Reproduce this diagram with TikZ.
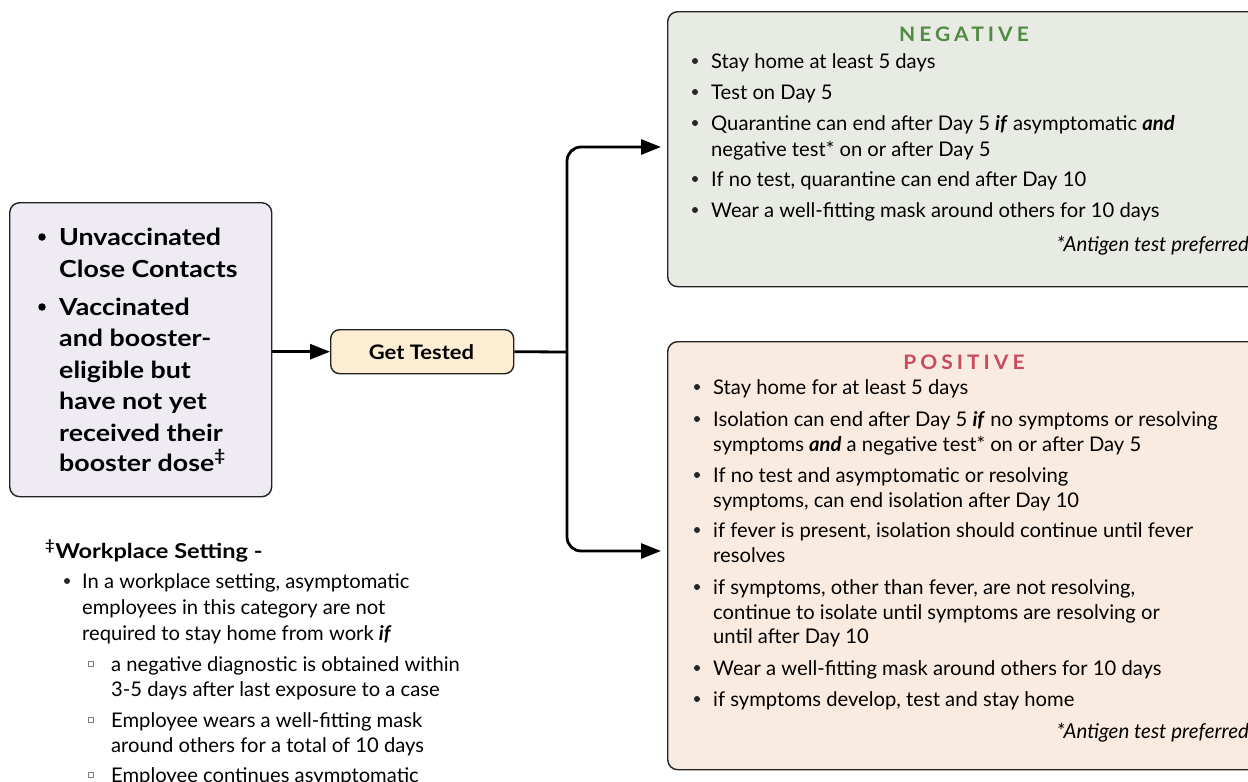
\documentclass[tikz,border=0pt]{standalone}
\usepackage{fontspec}
\setmainfont{Lato}
\usetikzlibrary{arrows.meta}
\definecolor{lavbox}{HTML}{EFEBF3}
\definecolor{peach}{HTML}{FDEDD2}
\definecolor{negfill}{HTML}{E8EBE3}
\definecolor{posfill}{HTML}{FAEBE0}
\definecolor{neggreen}{HTML}{4F8B41}
\definecolor{posred}{HTML}{C94A5C}
\definecolor{edge}{HTML}{222222}
\newcommand\bi[1]{\textbf{\textit{#1}}}
\begin{document}
\begin{tikzpicture}[x=1pt,y=1pt,
  box/.style={draw=edge, line width=1.4pt, rounded corners=10pt, inner sep=0pt, anchor=north west},
  txt/.style={inner sep=0pt, anchor=base west, font=\fontsize{20.2}{24}\selectfont},
  dot/.style={circle, fill=black!85, inner sep=0pt, minimum size=6pt},
  bigdot/.style={circle, fill=black, inner sep=0pt, minimum size=7.5pt},
  bigtxt/.style={inner sep=0pt, anchor=base west, font=\fontsize{23.5}{28}\selectfont\bfseries\addfontfeatures{FakeStretch=1.14}},
  foot/.style={inner sep=0pt, anchor=base east, font=\fontsize{20.5}{24}\selectfont\itshape},
  title/.style={inner sep=0pt, anchor=base, font=\fontsize{20}{24}\selectfont\bfseries\addfontfeatures{LetterSpace=20,FakeStretch=1.05}},
  sq/.style={draw=gray, line width=0.8pt, fill=white, minimum size=5.5pt, inner sep=0pt},
  conn/.style={line width=2.8pt, draw=black},
  arr/.style={conn, -{Triangle[length=20pt,width=15pt]}}
]
\useasboundingbox (0,0) rectangle (1248,-782);

% boxes
\node[box, fill=lavbox, minimum width=262pt, minimum height=294pt] (src) at (9,-202) {};
\node[box, fill=peach, minimum width=183pt, minimum height=44pt, rounded corners=9pt] (gt) at (330,-329) {};
\node[inner sep=0pt, anchor=base, font=\fontsize{20}{24}\selectfont\bfseries\addfontfeatures{FakeStretch=1.1}] (gtt) at (421.5,-359) {Get Tested};
\node[box, fill=negfill, minimum width=596pt, minimum height=275pt] (neg) at (667,-11) {};
\node[box, fill=posfill, minimum width=596pt, minimum height=428pt] (pos) at (667,-341) {};

% connectors
\coordinate (j) at (567,-352);
\draw[arr] (src.east |- gt.west) -- (gt.west);
\draw[conn] (gt.east) -- (j);
\draw[arr, rounded corners=14pt] (j) |- ([xshift=-6pt]neg.west |- 0,-147);
\draw[arr, rounded corners=14pt] (j) |- ([xshift=-6pt]pos.west |- 0,-551);

% left box text
\foreach \y [count=\i] in {245,315} \node[bigdot] (sb\i) at (42,-\y+8) {};
\foreach \y/\t [count=\i] in {245/Unvaccinated, 277/Close Contacts, 315/Vaccinated, 346/and booster-, 378/eligible but, 409/have not yet, 441/received their, 471/{booster dose\textsuperscript{‡}}}
  \node[bigtxt] (s\i) at (59,-\y) {\t};

% workplace
\node[inner sep=0pt, anchor=base west, font=\fontsize{20.5}{24}\selectfont\bfseries\addfontfeatures{FakeStretch=1.15}] (wt) at (45,-558) {\textsuperscript{‡}Workplace Setting -};
\node[dot] (wb) at (67,-588+7) {};
\foreach \y/\t [count=\i] in {588/{In a workplace setting, asymptomatic}, 614/employees in this category are not, 640/{required to stay home from work \bi{if}}}
  \node[txt] (w\i) at (82,-\y) {\t};
\foreach \y [count=\i] in {671,727,782} \node[sq] (wq\i) at (91,-\y+7) {};
\foreach \y/\t [count=\i] in {671/a negative diagnostic is obtained within, 696/3-5 days after last exposure to a case, 727/Employee wears a well-fitting mask, 752/around others for a total of 10 days, 782/Employee continues asymptomatic}
  \node[txt] (v\i) at (111,-\y) {\t};

% negative
\node[title, text=neggreen] (negt) at (964,-41) {NEGATIVE};
\foreach \y [count=\i] in {68,99,130,186,217} \node[dot] (nb\i) at (695,-\y+7) {};
\foreach \y/\t [count=\i] in {68/Stay home at least 5 days, 99/Test on Day 5, 130/{Quarantine can end after Day 5 \bi{if} asymptomatic \bi{and}}, 156/negative test* on or after Day 5, 186/{If no test, quarantine can end after Day 10}, 217/Wear a well-fitting mask around others for 10 days}
  \node[txt] (n\i) at (711,-\y) {\t};
\node[foot] (nf) at (1249,-251) {*Antigen test preferred};

% positive
\node[title, text=posred] (post) at (964,-369) {POSITIVE};
\foreach \y [count=\i] in {394,426,482,537,594,675,706} \node[dot] (pb\i) at (697,-\y+7) {};
\foreach \y/\t [count=\i] in {394/Stay home for at least 5 days, 426/{Isolation can end after Day 5 \bi{if} no symptoms or resolving}, 451/{symptoms \bi{and} a negative test* on or after Day 5}, 482/If no test and asymptomatic or resolving, 507/{symptoms, can end isolation after Day 10}, 537/{if fever is present, isolation should continue until fever}, 562/resolves, 594/{if symptoms, other than fever, are not resolving,}, 619/continue to isolate until symptoms are resolving or, 643/until after Day 10, 675/Wear a well-fitting mask around others for 10 days, 706/{if symptoms develop, test and stay home}}
  \node[txt] (p\i) at (713,-\y) {\t};
\node[foot] (pf) at (1249,-738) {*Antigen test preferred};
\end{tikzpicture}
\end{document}
